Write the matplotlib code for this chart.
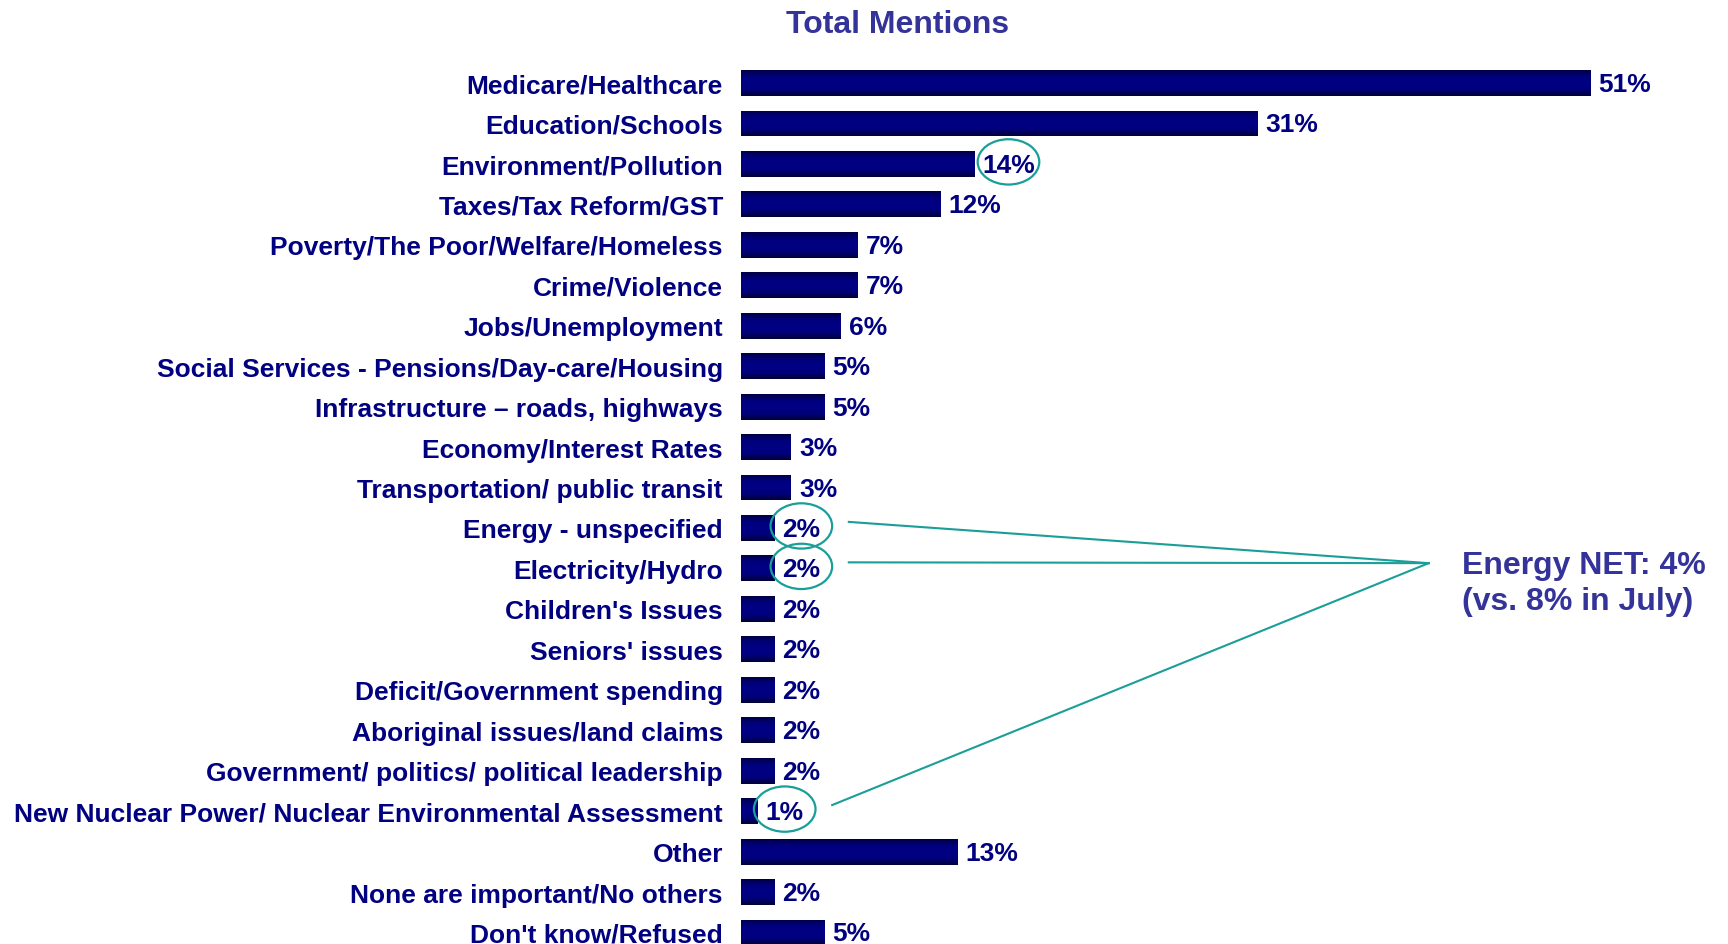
import numpy as np
import matplotlib
matplotlib.use('Agg')
import matplotlib.pyplot as plt
from matplotlib.patches import Ellipse
from matplotlib.colors import LinearSegmentedColormap

# dados
categories = [
    'Medicare/Healthcare',
    'Education/Schools',
    'Environment/Pollution',
    'Taxes/Tax Reform/GST',
    'Poverty/The Poor/Welfare/Homeless',
    'Crime/Violence',
    'Jobs/Unemployment',
    'Social Services - Pensions/Day-care/Housing',
    'Infrastructure \u2013 roads, highways',
    'Economy/Interest Rates',
    'Transportation/ public transit',
    'Energy - unspecified',
    'Electricity/Hydro',
    "Children's Issues",
    "Seniors' issues",
    'Deficit/Government spending',
    'Aboriginal issues/land claims',
    'Government/ politics/ political leadership',
    'New Nuclear Power/ Nuclear Environmental Assessment',
    'Other',
    'None are important/No others',
    "Don't know/Refused",
]
values = [51, 31, 14, 12, 7, 7, 6, 5, 5, 3, 3, 2, 2, 2, 2, 2, 2, 2, 1, 13, 2, 5]

circled = ['Environment/Pollution', 'Energy - unspecified', 'Electricity/Hydro',
           'New Nuclear Power/ Nuclear Environmental Assessment']
energy_items = ['Energy - unspecified', 'Electricity/Hydro',
                'New Nuclear Power/ Nuclear Environmental Assessment']

title = 'Total Mentions'
note = 'Energy NET: 4%\n(vs. 8% in July)'

# estilo
navy = '#000080'
purple = '#333399'
teal = '#1A9E98'
plt.rcParams['font.family'] = ['Liberation Sans', 'DejaVu Sans']
plt.rcParams['font.weight'] = 'bold'

W, H = 1728, 945
fig = plt.figure(figsize=(W / 100, H / 100), dpi=100)
ax = fig.add_axes([741 / W, -0.0092, 1 - 741 / W, 0.9417])

ypos = np.arange(len(categories))
bar_h = 0.64
bars = ax.barh(ypos, values, height=bar_h, color='#000070', zorder=2)

# gradiente das barras (escuro nas bordas, claro no meio)
cmap = LinearSegmentedColormap.from_list('barra', ['#000045', '#00007e', '#000084', '#00007c', '#000038'])
grad = np.linspace(0, 1, 64).reshape(-1, 1)
for b, y, v in zip(bars, ypos, values):
    im = ax.imshow(grad, extent=[0, v, y + bar_h / 2, y - bar_h / 2],
                   aspect='auto', cmap=cmap, zorder=3, interpolation='bilinear')
    im.set_clip_path(b)

ax.set_xlim(0, (W - 741) / 16.65)
ax.set_ylim(len(categories) - 0.5, -0.5)
ax.set_xticks([])
ax.set_yticks(ypos, categories, fontsize=19, color=navy)
ax.tick_params(axis='y', length=0, pad=13)
for s in ax.spines.values():
    s.set_visible(False)

# rotulos de valor
val_texts = {}
for cat, y, v in zip(categories, ypos, values):
    t = ax.annotate(f'{v}%', xy=(v, y), xytext=(8, -1), textcoords='offset pixels',
                    va='center', ha='left', fontsize=19, color=navy, zorder=5)
    val_texts[cat] = t

# elipses e linhas de ligação
fig.canvas.draw()
renderer = fig.canvas.get_renderer()
inv = ax.transData.inverted()
ell_w, ell_h = 3.7, 1.12
hub = (41.3, 11.87)
for cat in circled:
    bb = val_texts[cat].get_window_extent(renderer)
    y = categories.index(cat)
    cx = inv.transform(((bb.x0 + bb.x1) / 2, 0))[0]
    ax.add_patch(Ellipse((cx, y - 0.05), ell_w, ell_h, fill=False, ec=teal, lw=1.6,
                         zorder=6, clip_on=False))
    if cat in energy_items:
        x0 = cx + ell_w / 2 + 1.0
        ax.plot([x0, hub[0]], [y - 0.15, hub[1]], color=teal, lw=1.5, zorder=6, clip_on=False)

fig.text(898 / W, 1 - 33 / H, title, fontsize=23, color=purple, ha='center', va='baseline')
fig.text(1462 / W, 1 - 584 / H, note, fontsize=23, color=purple, ha='left', va='center',
         linespacing=1.3)

fig.savefig('out.png', dpi=100)
